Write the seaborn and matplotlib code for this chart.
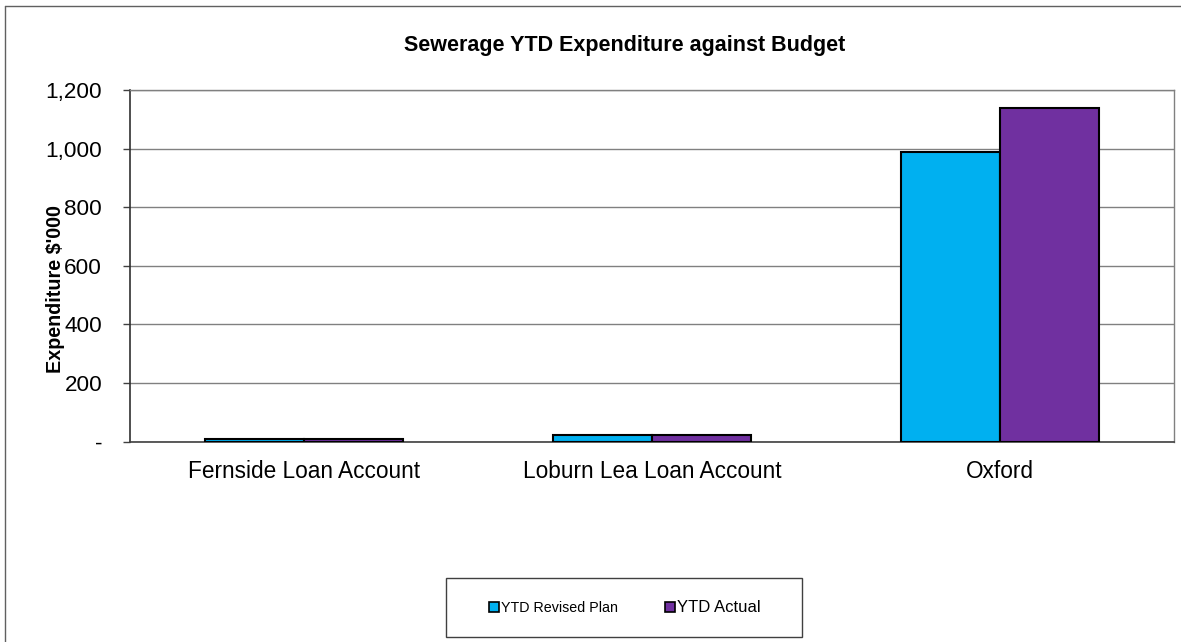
import matplotlib
matplotlib.use("Agg")
import matplotlib.pyplot as plt
from matplotlib.lines import Line2D
from matplotlib.patches import Rectangle
from matplotlib.ticker import FuncFormatter, FixedLocator
import seaborn as sns
import pandas as pd

# Data ($'000)
categories = ["Fernside Loan Account", "Loburn Lea Loan Account", "Oxford"]
series_names = ["YTD Revised Plan", "YTD Actual"]
plan_values = [10, 22, 990]
actual_values = [10, 22, 1140]
y_ticks = [0, 200, 400, 600, 800, 1000, 1200]

colors = {"YTD Revised Plan": "#00B0F0", "YTD Actual": "#7030A0"}

df = pd.DataFrame({
    "Account": categories * 2,
    "Series": [series_names[0]] * len(categories) + [series_names[1]] * len(categories),
    "Value": plan_values + actual_values,
})

sns.set_style("white")
plt.rcParams["font.family"] = ["Liberation Sans", "DejaVu Sans"]
plt.rcParams["text.color"] = "black"
plt.rcParams["axes.labelcolor"] = "black"
plt.rcParams["xtick.color"] = "black"
plt.rcParams["ytick.color"] = "black"

W, H = 1181, 642
fig = plt.figure(figsize=(W / 100, H / 100), dpi=100)
ax = fig.add_axes([130 / W, 1 - 441.5 / H, (1174 - 130) / W, (441.5 - 90) / H])

sns.barplot(data=df, x="Account", y="Value", hue="Series", order=categories,
            hue_order=series_names, palette=colors, width=0.57, gap=0,
            edgecolor="black", linewidth=1.5, saturation=1, ax=ax,
            legend=False, zorder=3, errorbar=None)

ax.set_xlim(-0.5, len(categories) - 0.5)
ax.set_ylim(0, 1200)
ax.yaxis.set_major_locator(FixedLocator(y_ticks))
ax.yaxis.set_major_formatter(FuncFormatter(lambda v, p: "-" if v == 0 else f"{v:,.0f}"))
ax.grid(axis="y", color="#808080", linewidth=1.0, zorder=0)
ax.set_axisbelow(True)

# category boundary ticks on the x axis
ax.set_xticks([i - 0.5 for i in range(len(categories) + 1)], minor=True)
ax.tick_params(axis="x", which="minor", length=6, width=1, color="#404040", direction="out")
ax.tick_params(axis="x", which="major", length=0, pad=13, labelsize=16.3)
ax.tick_params(axis="y", which="major", length=5, width=1, color="#404040",
               direction="out", pad=15, labelsize=16.2, left=True)

for side in ["top", "right"]:
    ax.spines[side].set_visible(True)
    ax.spines[side].set_color("#808080")
    ax.spines[side].set_linewidth(1)
ax.spines["left"].set_color("#303030")
ax.spines["left"].set_linewidth(1.2)
ax.spines["bottom"].set_color("#404040")
ax.spines["bottom"].set_linewidth(1.2)

ax.set_xlabel("")
ax.set_ylabel("Expenditure $'000", fontsize=14.2, fontweight="bold")
ax.yaxis.set_label_coords((65 - 130) / (1174 - 130), (441.5 - 289) / (441.5 - 90))

fig.text(625 / W, 1 - 45 / H, "Sewerage YTD Expenditure against Budget",
         ha="center", va="center", fontsize=15.5, fontweight="bold")

# legend box
fig.patches.append(Rectangle((446 / W, 1 - 637 / H), (802 - 446) / W, (637 - 578) / H,
                             transform=fig.transFigure, fill=False,
                             edgecolor="#404040", linewidth=1))
handles = [Line2D([], [], marker="s", linestyle="none", markersize=6.5,
                  markerfacecolor=colors[s], markeredgecolor="black",
                  markeredgewidth=1.2) for s in series_names]
leg = fig.legend(handles, series_names, loc="center", bbox_to_anchor=(625 / W, 1 - 608 / H),
                 ncol=2, frameon=False, handlelength=0.7, handletextpad=0.15,
                 columnspacing=3.25, fontsize=10.3)
leg.get_texts()[1].set_fontsize(12)

# outer chart border
fig.add_artist(Line2D([5 / W, 5 / W], [0, 1 - 6 / H], transform=fig.transFigure,
                      color="#606060", linewidth=1))
fig.add_artist(Line2D([5 / W, 1], [1 - 6 / H, 1 - 6 / H], transform=fig.transFigure,
                      color="#606060", linewidth=1))

fig.savefig("out.png", dpi=100)
